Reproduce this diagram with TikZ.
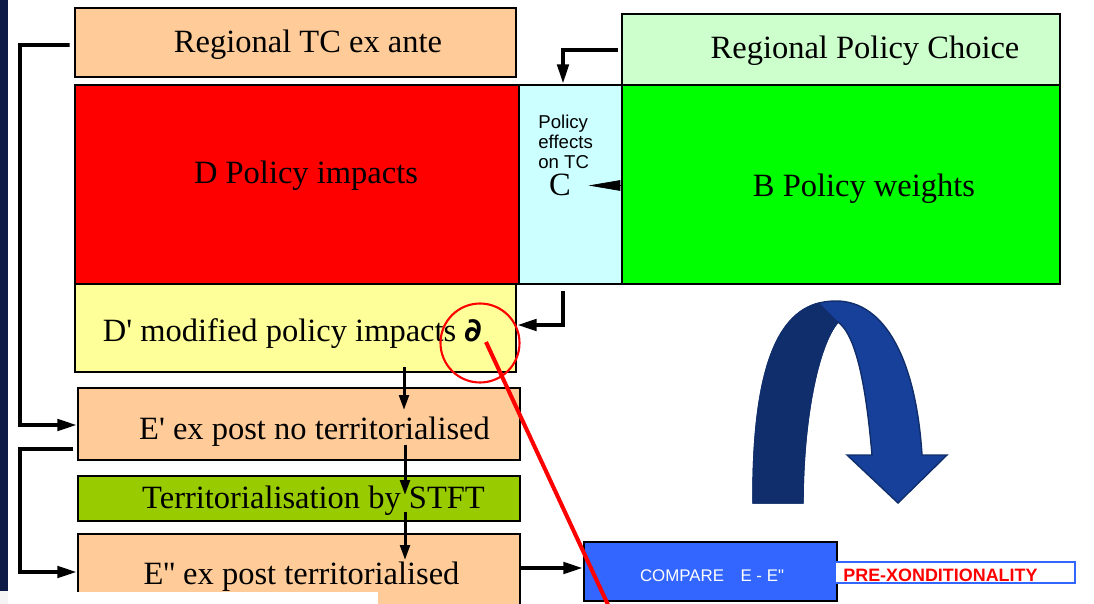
\documentclass[tikz,border=0pt]{standalone}
\usepackage{fontspec}
\setmainfont{Liberation Serif}[Ligatures=TeXOff]
\setsansfont{Liberation Sans}[Ligatures=TeXOff]
\newfontfamily\dejavu{DejaVu Sans}
\usetikzlibrary{arrows.meta,calc}

\definecolor{peach}{HTML}{FFCC99}
\definecolor{paleg}{HTML}{CCFFCC}
\definecolor{palec}{HTML}{CCFFFF}
\definecolor{paley}{HTML}{FFFF99}
\definecolor{brightg}{HTML}{00FF00}
\definecolor{oliveg}{HTML}{99CC00}
\definecolor{cmpblue}{HTML}{3366FF}
\definecolor{navy}{HTML}{0D1A45}
\definecolor{uturnd}{HTML}{0F2E6B}
\definecolor{uturnl}{HTML}{17409A}

\tikzset{
  box/.style={draw=black, line width=1.6pt, inner sep=0pt},
  lbl/.style={anchor=base, inner sep=0pt, font=\fontsize{18.5}{20}\selectfont},
  conn/.style={line width=2pt, -{Triangle[length=11pt,width=6.5pt]}},
  down/.style={line width=1.7pt, -{Triangle[length=8.5pt,width=5.5pt]}}
}

\begin{document}
\begin{tikzpicture}[x=0.02cm,y=-0.02cm]
\clip (0,0) rectangle (1094,604);

% side bar
\fill[navy] (0,0) rectangle (8,591);
\fill[gray!8] (0,591) rectangle (8,604);

% boxes
\node[box, fill=peach, minimum width=8.82cm, minimum height=1.38cm] (tcante) at (295.5,42.5) {};
\node[box, fill=paleg, minimum width=8.76cm, minimum height=1.44cm] (choice) at (841,50) {};
\node[box, fill=red, minimum width=8.88cm, minimum height=3.98cm] (impacts) at (297,184.5) {};
\node[box, fill=palec, minimum width=2.06cm, minimum height=3.98cm] (effects) at (570.5,184.5) {};
\node[box, fill=brightg, minimum width=8.76cm, minimum height=3.98cm] (weights) at (841,184.5) {};
\node[box, fill=paley, minimum width=8.82cm, minimum height=1.76cm] (modified) at (295.5,328) {};
\node[box, fill=peach, minimum width=8.84cm, minimum height=1.44cm] (expostno) at (299,424) {};
\node[box, fill=oliveg, minimum width=8.84cm, minimum height=0.9cm] (stft) at (299,498.5) {};
\node[box, fill=peach, minimum width=8.84cm, minimum height=1.6cm] (expost) at (299,574) {};
\fill[white] (77,592) rectangle (378,604);
\node[box, fill=cmpblue, minimum width=5.06cm, minimum height=1.18cm] (compare) at (710.5,571.5) {};
\node[draw=cmpblue, line width=1.2pt, fill=white, inner sep=0pt, minimum width=4.8cm, minimum height=0.42cm] (precond) at (955,572.5) {};

% texts
\node[lbl] (tcantetxt) at (308,53) {Regional TC ex ante};
\node[lbl] (choicetxt) at (865,59) {Regional Policy Choice};
\node[lbl] (impactstxt) at (306,184) {D Policy impacts};
\node[lbl] (weightstxt) at (864,197) {B Policy weights};
\node[lbl] (modifiedtxt) at (292.5,341) {D' modified policy impacts {\dejavu\bfseries\itshape ∂}};
\node[lbl] (expostnotxt) at (314.5,439) {E' ex post no territorialised};
\node[lbl] (stfttxt) at (313.5,508) {Territorialisation by STFT};
\node[lbl] (expostttxt) at (301.5,584) {E'' ex post territorialised};
\node[anchor=north west, inner sep=0pt, align=left, font=\sffamily\fontsize{10.6}{11.2}\selectfont] (effectstxt) at (538,115) {Policy\\effects\\on TC};
\node[lbl] (ctxt) at (560,196) {C};
\node[anchor=base, inner sep=0pt, text=white, font=\sffamily\fontsize{9.6}{11}\selectfont] (comparetxt) at (712,581) {COMPARE\hspace{0.7em} E - E"};
\node[anchor=base west, inner sep=0pt, text=red, font=\sffamily\bfseries\fontsize{10.2}{11}\selectfont] (precondtxt) at (843,581) {PRE-XONDITIONALITY};

% connectors
\coordinate (lefttop) at (20,45);
\coordinate (leftmid) at (20,449);
\draw[conn] ($(tcante.west)+(-4,2.5)$) -- (lefttop) |- ($(expostno.west)+(0,1)$);
\draw[conn] ($(expostno.west)+(-4,25)$) -- (leftmid) |- ($(expost.west)+(0,-2)$);
\draw[conn] ($(choice.west)+(-3,0)$) -| ($(effects.north)+(-7.5,0)$);
\draw[line width=0.4pt, -{Triangle[length=18pt,width=6pt]}] ($(weights.west)+(0,1)$) -- ++(-32,0);
\draw[conn] ($(effects.south)+(-7.5,6)$) |- ($(modified.east)+(0,-3)$);
\coordinate (v1a) at (404,367);
\coordinate (v1b) at (404,410);
\coordinate (v2a) at (405,445);
\coordinate (v2b) at (405,495);
\coordinate (v3a) at (405,512);
\coordinate (v3b) at (405,560);
\draw[down] (v1a) -- (v1b);
\draw[down] (v2a) -- (v2b);
\draw[down] (v3a) -- (v3b);
\draw[conn] ($(expost.east)+(0,-6)$) -- ($(compare.west)+(0,-3.5)$);

% red marker
\node[draw=red, line width=1.2pt, circle, minimum size=1.58cm] (ring) at (480,343) {};
\coordinate (partial) at (486,342);
\coordinate (redend) at (609,607);
\draw[red, line width=2.3pt] (partial) -- (redend);

% u-turn arrow
\filldraw[fill=uturnl, draw=uturnd, line width=0.8pt]
  (753,503) .. controls (752,340) and (790,301) .. (836,301)
  .. controls (885,301) and (916,360) .. (922,455) -- (947,455) -- (898,503)
  -- (847,455) -- (872,455) .. controls (866,385) and (856,335) .. (838,322)
  .. controls (818,345) and (803,420) .. (803,503) -- cycle;
\begin{scope}
  \clip (740,290) -- (812,296) -- (838,322) -- (838,520) -- (740,520) -- cycle;
  \filldraw[fill=uturnd, draw=uturnd, line width=0.8pt]
    (753,503) .. controls (752,340) and (790,301) .. (836,301)
    .. controls (885,301) and (916,360) .. (922,455)
    -- (872,455) .. controls (866,385) and (856,335) .. (838,322)
    .. controls (818,345) and (803,420) .. (803,503) -- cycle;
\end{scope}

\end{tikzpicture}
\end{document}
